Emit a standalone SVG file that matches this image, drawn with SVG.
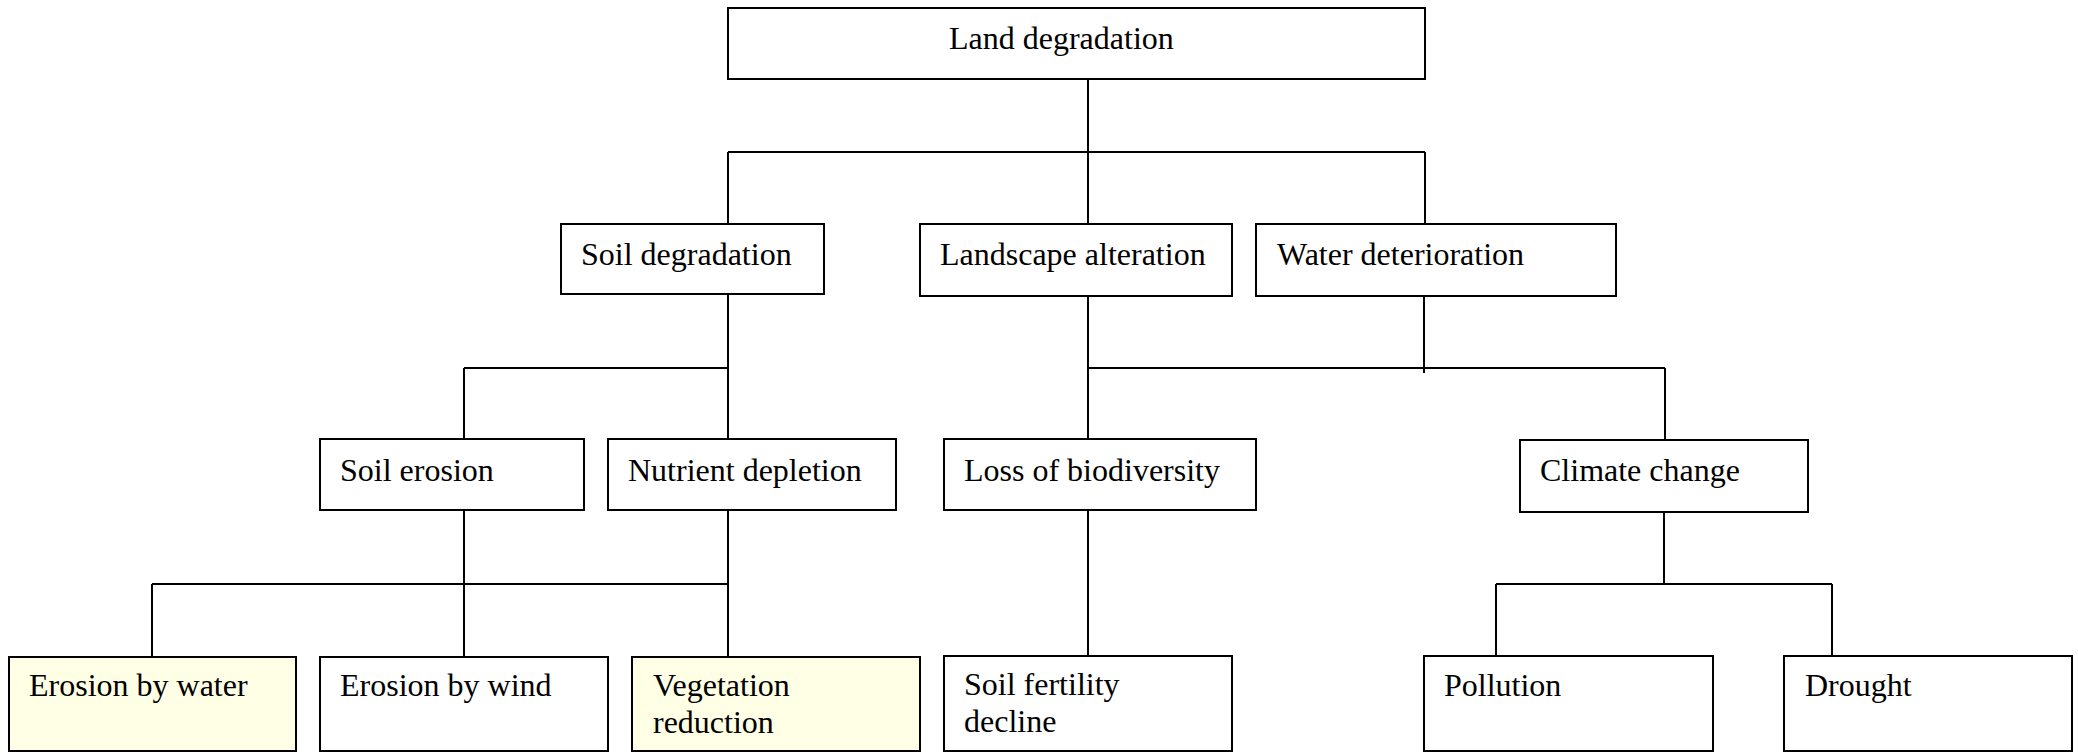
<svg xmlns="http://www.w3.org/2000/svg" width="2078" height="752" viewBox="0 0 2078 752">
<style>
.box{fill:#ffffff;stroke:#000;stroke-width:2}
.hl{fill:#ffffe6;stroke:#000;stroke-width:2}
.t{font-family:"Liberation Serif","Times New Roman",serif;font-size:32px;fill:#000}
.c{fill:none;stroke:#000;stroke-width:2}
</style>
<rect width="2078" height="752" fill="#fff"/>
<g id="connectors">
<path class="c" d="M1088 80V152M728 152H1425M728 152V224M1088 152V224M1425 152V224"/>
<path class="c" d="M728 294V368M464 368H728M464 368V440M728 368V440"/>
<path class="c" d="M1088 296V368M1424 296V373M1088 368H1665M1088 368V440M1665 368V440"/>
<path class="c" d="M464 510V656M728 510V656M152 584H728M152 584V657"/>
<path class="c" d="M1088 510V656"/>
<path class="c" d="M1664 512V584M1496 584H1832M1496 584V656M1832 584V656"/>
</g>
<g id="n-land"><rect class="box" x="728" y="8" width="697" height="71"/><text class="t" x="949" y="49">Land degradation</text></g>
<g id="n-soil"><rect class="box" x="561" y="224" width="263" height="70"/><text class="t" x="581" y="265">Soil degradation</text></g>
<g id="n-landscape"><rect class="box" x="920" y="224" width="312" height="72"/><text class="t" x="940" y="265">Landscape alteration</text></g>
<g id="n-water"><rect class="box" x="1256" y="224" width="360" height="72"/><text class="t" x="1277" y="265">Water deterioration</text></g>
<g id="n-erosion"><rect class="box" x="320" y="439" width="264" height="71"/><text class="t" x="340" y="481">Soil erosion</text></g>
<g id="n-nutrient"><rect class="box" x="608" y="439" width="288" height="71"/><text class="t" x="628" y="481">Nutrient depletion</text></g>
<g id="n-biodiv"><rect class="box" x="944" y="439" width="312" height="71"/><text class="t" x="964" y="481">Loss of biodiversity</text></g>
<g id="n-climate"><rect class="box" x="1520" y="440" width="288" height="72"/><text class="t" x="1540" y="481">Climate change</text></g>
<g id="n-ewater"><rect class="hl" x="9" y="657" width="287" height="94"/><text class="t" x="29" y="696">Erosion by water</text></g>
<g id="n-ewind"><rect class="box" x="320" y="657" width="288" height="94"/><text class="t" x="340" y="696">Erosion by wind</text></g>
<g id="n-veg"><rect class="hl" x="632" y="657" width="288" height="94"/><text class="t" x="653" y="696">Vegetation</text><text class="t" x="653" y="733">reduction</text></g>
<g id="n-fert"><rect class="box" x="944" y="656" width="288" height="95"/><text class="t" x="964" y="695">Soil fertility</text><text class="t" x="964" y="732">decline</text></g>
<g id="n-poll"><rect class="box" x="1424" y="656" width="289" height="95"/><text class="t" x="1444" y="696">Pollution</text></g>
<g id="n-drought"><rect class="box" x="1784" y="656" width="288" height="95"/><text class="t" x="1805" y="696">Drought</text></g>
</svg>
